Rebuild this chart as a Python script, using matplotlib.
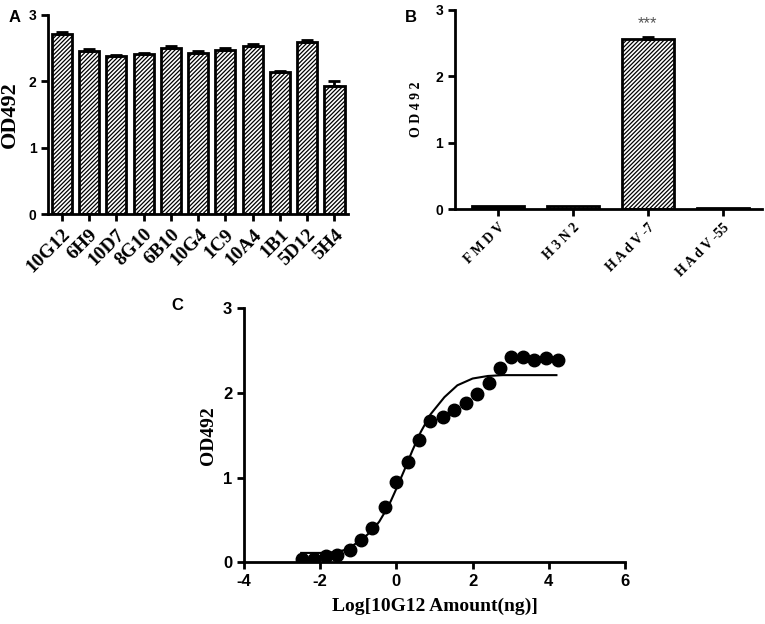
import numpy as np
import matplotlib
matplotlib.use("Agg")
import matplotlib.pyplot as plt

# panel A
clones = ["10G12", "6H9", "10D7", "8G10", "6B10", "10G4", "1C9", "10A4", "1B1", "5D12", "5H4"]
od_a = [2.72, 2.45, 2.38, 2.41, 2.50, 2.43, 2.47, 2.53, 2.14, 2.59, 1.93]
err_a = [0.03, 0.03, 0.02, 0.02, 0.03, 0.02, 0.03, 0.03, 0.01, 0.03, 0.08]

# panel B
viruses = ["F M D V", "H 3 N 2", "H A d V -7", "H A d V -55"]
od_b = [0.04, 0.04, 2.56, 0.02]
err_b = [0.0, 0.0, 0.03, 0.0]

# panel C
log_amt = [-2.47, -2.17, -1.86, -1.55, -1.23, -0.94, -0.63, -0.31, 0.0, 0.31, 0.60,
           0.89, 1.21, 1.52, 1.82, 2.11, 2.42, 2.73, 3.01, 3.32, 3.62, 3.93, 4.24]
od_c = [0.035, 0.035, 0.07, 0.09, 0.15, 0.26, 0.40, 0.65, 0.95, 1.18, 1.44,
        1.67, 1.71, 1.80, 1.88, 1.99, 2.12, 2.30, 2.43, 2.43, 2.39, 2.41, 2.39]
fit_x = [-2.5, -2.0, -1.6, -1.3, -1.07, -0.85, -0.63, -0.45, -0.28, -0.15, -0.02,
         0.2, 0.42, 0.64, 0.9, 1.26, 1.6, 2.0, 2.4, 2.8, 4.2]
fit_y = [0.11, 0.11, 0.12, 0.15, 0.22, 0.29, 0.38, 0.48, 0.61, 0.72, 0.85,
         1.08, 1.32, 1.54, 1.75, 1.95, 2.09, 2.17, 2.20, 2.21, 2.21]

serif = "Liberation Serif"
sans = "Liberation Sans"
plt.rcParams["hatch.linewidth"] = 0.9
plt.rcParams["axes.unicode_minus"] = False


def style_axes(ax, tick_size):
    for s in ["top", "right"]:
        ax.spines[s].set_visible(False)
    for s in ["left", "bottom"]:
        ax.spines[s].set_linewidth(2)
    ax.tick_params(width=2, length=5, direction="out")
    ax.set_yticks([0, 1, 2, 3])
    for lab in ax.get_yticklabels():
        lab.set_fontfamily(sans)
        lab.set_fontweight("bold")
        lab.set_fontsize(tick_size)


fig = plt.figure(figsize=(7.65, 6.24), dpi=100)

# A
axA = fig.add_axes([0.063, 0.657, 0.392, 0.319])
xa = np.arange(len(clones))
axA.bar(xa, od_a, width=0.74, color="white", edgecolor="black", linewidth=2,
        hatch="////////", yerr=[np.zeros(len(err_a)), err_a],
        error_kw=dict(ecolor="black", elinewidth=2, capsize=4, capthick=2))
axA.set_xlim(-0.5, 10.5)
axA.set_ylim(0, 3)
style_axes(axA, 10)
axA.set_xticks(xa)
axA.set_xticklabels(clones, rotation=45, ha="right", rotation_mode="anchor",
                    fontfamily=serif, fontweight="bold", fontsize=14)
axA.set_ylabel("OD492", fontfamily=serif, fontweight="bold", fontsize=16, labelpad=6)
fig.text(0.011, 0.984, "A", fontfamily=sans, fontweight="bold", fontsize=12, va="top")

# B
axB = fig.add_axes([0.595, 0.665, 0.401, 0.319])
xb = np.arange(len(viruses))
faces = ["black", "#888888", "white", "black"]
hatches = [None, "....", "////////", None]
for i in range(len(viruses)):
    axB.bar(xb[i], od_b[i], width=0.7, color=faces[i], edgecolor="black",
            linewidth=2, hatch=hatches[i],
            yerr=[[0], [err_b[i]]] if err_b[i] > 0 else None,
            error_kw=dict(ecolor="black", elinewidth=2, capsize=4, capthick=2))
axB.text(xb[2], od_b[2] + 0.12, "***", ha="center", va="bottom",
         fontsize=12, color="#555555", fontfamily=sans)
axB.set_xlim(-0.57, 3.52)
axB.set_ylim(0, 3)
style_axes(axB, 10)
axB.set_xticks(xb)
axB.set_xticklabels(viruses, rotation=45, ha="right", rotation_mode="anchor",
                    fontfamily=serif, fontweight="bold", fontsize=10)
axB.set_ylabel("O D 4 9 2", fontfamily=serif, fontweight="bold", fontsize=10, labelpad=9)
fig.text(0.529, 0.984, "B", fontfamily=sans, fontweight="bold", fontsize=12, va="top")

# C
axC = fig.add_axes([0.319, 0.099, 0.498, 0.407])
axC.errorbar(log_amt, od_c, yerr=0.03, fmt="o", color="black", markersize=9,
             elinewidth=1.5, capsize=2)
axC.plot(fit_x, fit_y, color="black", linewidth=1.5)
axC.set_xlim(-4, 6)
axC.set_ylim(0, 3)
style_axes(axC, 12)
axC.set_xticks([-4, -2, 0, 2, 4, 6])
for lab in axC.get_xticklabels():
    lab.set_fontfamily(sans)
    lab.set_fontweight("bold")
    lab.set_fontsize(12)
axC.set_ylabel("OD492", fontfamily=serif, fontweight="bold", fontsize=14, labelpad=4)
axC.set_xlabel("Log[10G12 Amount(ng)]", fontfamily=serif, fontweight="bold",
               fontsize=14, labelpad=6)
fig.text(0.224, 0.503, "C", fontfamily=sans, fontweight="bold", fontsize=12, va="baseline")

fig.savefig("out.png", dpi=100)
